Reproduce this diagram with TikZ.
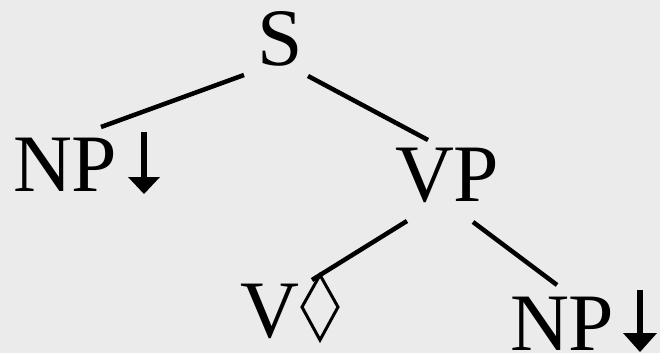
\documentclass[tikz,border=0pt]{standalone}
\usepackage{fontspec}
\setmainfont{Liberation Serif}
\definecolor{bg}{HTML}{EBEBEB}
\tikzset{
  lbl/.style={inner sep=0pt, outer sep=0pt, anchor=base west, text depth=0pt, font=\fontsize{81.6}{90}\selectfont},
  edge/.style={line width=4.5pt},
  foot/.style={line width=3pt, line join=miter},
  stem/.style={line width=6pt},
}
\begin{document}
\begin{tikzpicture}[x=1pt,y=-1pt]
  \fill[bg] (0,0) rectangle (660,353);
  \useasboundingbox (0,0) rectangle (660,353);
  % labels
  \node[lbl] (s)   at (257,65)  {S};
  \node[lbl] (np1) at (13,191)  {NP};
  \node[lbl] (vp)  at (395,201) {VP};
  \node[lbl] (v)   at (240,337) {V};
  \node[lbl] (np2) at (510,350) {NP};
  % connector ends
  \coordinate (s-l)   at (244,75);
  \coordinate (s-r)   at (308,76);
  \coordinate (np1-t) at (101,127);
  \coordinate (vp-t)  at (428,140);
  \coordinate (vp-l)  at (407,221);
  \coordinate (vp-r)  at (473,222);
  \coordinate (v-t)   at (312,280);
  \coordinate (np2-t) at (557,285);
  \draw[edge] (s-l) -- (np1-t);
  \draw[edge] (s-r) -- (vp-t);
  \draw[edge] (vp-l) -- (v-t);
  \draw[edge] (vp-r) -- (np2-t);
  % substitution arrows
  \draw[stem] (144,132) -- (144,180);
  \fill (128,177) -- (160,177) -- (144,194) -- cycle;
  \draw[stem] (640,290) -- (640,336);
  \fill (623,333) -- (657,333) -- (640,352) -- cycle;
  % anchor diamond
  \draw[foot] (320,275) -- (338,307) -- (320,340) -- (302,307) -- cycle;
\end{tikzpicture}
\end{document}
